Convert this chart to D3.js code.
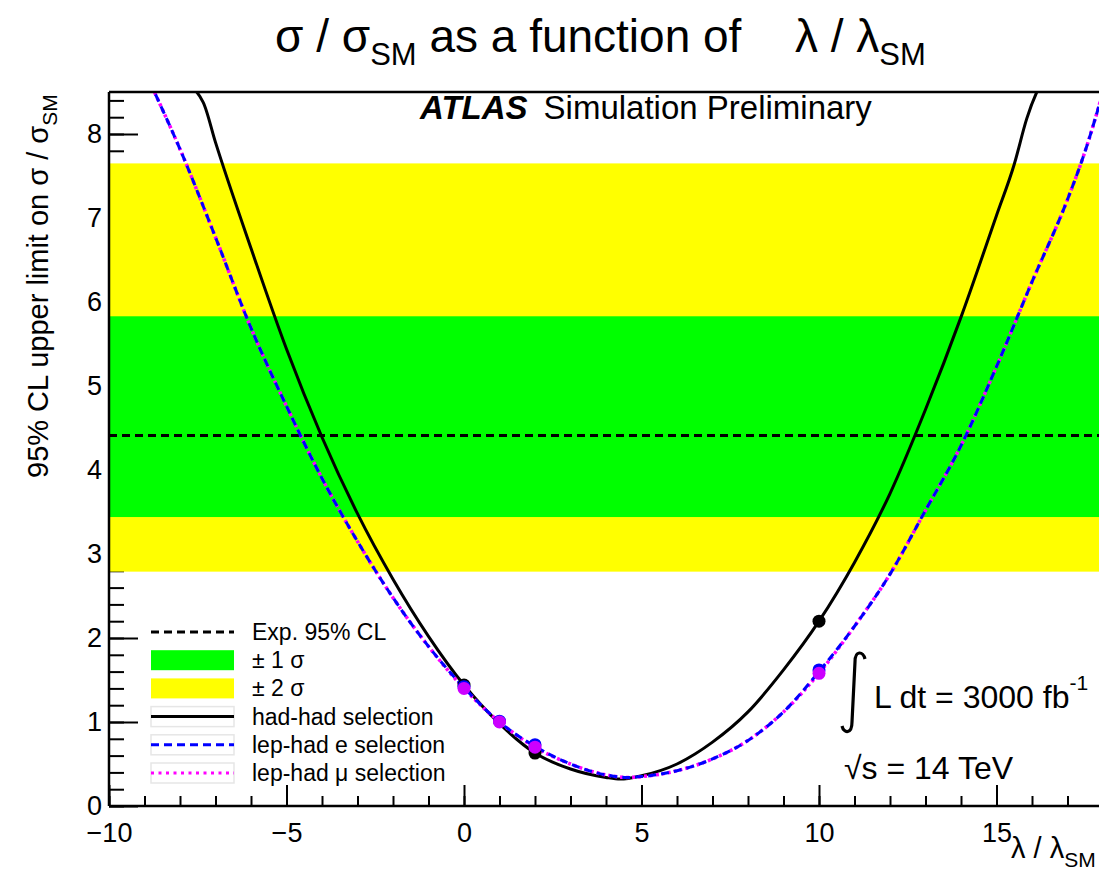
<!DOCTYPE html>
<html>
<head>
<meta charset="utf-8">
<script src="https://cdn.jsdelivr.net/npm/d3@7"></script>
<style>
  body { margin: 0; background: #fff; }
  svg { display: block; font-family: "Liberation Sans", Arial, sans-serif; }
</style>
</head>
<body>
<div id="chart"></div>
<script>
// Datos
const lambdaHad = [-8, -7.35, -7, -6, -5, -4, -3, -2, -1, 0, 1, 2, 3, 4, 4.4, 5, 6, 7, 8, 9, 10, 11, 12, 13, 14, 15, 15.5, 15.85, 16.5];
const limitHad = [8.65, 8.38, 7.9, 6.64, 5.44, 4.39, 3.48, 2.7, 2.02, 1.44, 0.98, 0.63, 0.44, 0.34, 0.32, 0.36, 0.5, 0.76, 1.12, 1.62, 2.2, 2.9, 3.72, 4.72, 5.82, 7.03, 7.64, 8.18, 8.8];

const lambdaLep = [-9, -8, -7, -6, -5, -4, -3, -2, -1, 0, 1, 2, 3, 4, 4.6, 5, 6, 7, 8, 9, 10, 11, 12, 13, 14, 15, 16, 17, 17.5, 18];
const limitLepE = [8.75, 7.82, 6.77, 5.69, 4.76, 3.9, 3.15, 2.48, 1.9, 1.41, 1.0, 0.71, 0.5, 0.37, 0.34, 0.35, 0.42, 0.56, 0.78, 1.12, 1.6, 2.14, 2.76, 3.52, 4.29, 5.23, 6.24, 7.22, 7.8, 8.5];
const limitLepMu = [8.75, 7.82, 6.77, 5.69, 4.76, 3.9, 3.15, 2.48, 1.9, 1.4, 1.0, 0.7, 0.5, 0.37, 0.34, 0.35, 0.42, 0.56, 0.78, 1.12, 1.58, 2.14, 2.76, 3.52, 4.29, 5.23, 6.24, 7.22, 7.8, 8.5];

const pointsHadX = [0, 2, 10];
const pointsHadY = [1.44, 0.63, 2.2];
const pointsLepX = [0, 1, 2, 10];
const pointsLepEY = [1.42, 1.01, 0.73, 1.62];
const pointsLepMuY = [1.4, 1.0, 0.7, 1.58];

const expLimit = 4.41;
const band1 = [3.44, 5.83];
const band2 = [2.79, 7.65];

const xTicks = [-10, -5, 0, 5, 10, 15];
const yTicks = [0, 1, 2, 3, 4, 5, 6, 7, 8];
const legendLabels = ["Exp. 95% CL", "\u00b1 1 \u03c3", "\u00b1 2 \u03c3", "had-had selection", "lep-had e selection", "lep-had \u03bc selection"];

// Constantes de dibujo
const width = 1099;
const height = 872;
const margin = { top: 92, right: -4, bottom: 66, left: 109 };

const svg = d3.select("div#chart").append("svg")
  .attr("width", width)
  .attr("height", height);

const x = d3.scaleLinear().domain([-10, 18]).range([margin.left, width - margin.right]);
const y = d3.scaleLinear().domain([0, 8.5]).range([height - margin.bottom, margin.top]);

svg.append("clipPath").attr("id", "plotClip")
  .append("rect")
  .attr("x", margin.left).attr("y", margin.top)
  .attr("width", x(18) - margin.left).attr("height", y(0) - margin.top);

// Ejes (ticks hacia dentro)
const minorY = d3.range(0, 43).map((i) => i * 0.2).filter((v) => v <= 8.5);
const minorX = d3.range(-10, 19);

const axisGroup = svg.append("g");
const styleAxis = (g) => {
  g.select(".domain").remove();
  g.selectAll("line").attr("stroke", "#000").attr("stroke-width", 2);
  g.selectAll("text").attr("font-size", 27).attr("font-family", "Liberation Sans, Arial, sans-serif").attr("fill", "#000");
};

axisGroup.append("g")
  .attr("transform", `translate(${margin.left},0)`)
  .call(d3.axisLeft(y).tickValues(minorY).tickSize(-15).tickFormat(""))
  .call(styleAxis);
axisGroup.append("g")
  .attr("transform", `translate(${margin.left},0)`)
  .call(d3.axisLeft(y).tickValues(yTicks).tickSize(-29).tickPadding(7).tickFormat(d3.format("d")))
  .call(styleAxis);
axisGroup.append("g")
  .attr("transform", `translate(0,${y(0)})`)
  .call(d3.axisBottom(x).tickValues(minorX).tickSize(-10).tickFormat(""))
  .call(styleAxis);
axisGroup.append("g")
  .attr("transform", `translate(0,${y(0)})`)
  .call(d3.axisBottom(x).tickValues(xTicks).tickSize(-21).tickPadding(17).tickFormat(d3.format("d")))
  .call(styleAxis);

// Bandas
const plot = svg.append("g").attr("clip-path", "url(#plotClip)");
plot.append("rect")
  .attr("x", margin.left).attr("width", x(18) - margin.left)
  .attr("y", y(band2[1])).attr("height", y(band2[0]) - y(band2[1]))
  .attr("fill", "#ffff00");
plot.append("rect")
  .attr("x", margin.left).attr("width", x(18) - margin.left)
  .attr("y", y(band1[1])).attr("height", y(band1[0]) - y(band1[1]))
  .attr("fill", "#00ff00");
plot.append("line")
  .attr("x1", margin.left).attr("x2", x(18))
  .attr("y1", y(expLimit)).attr("y2", y(expLimit))
  .attr("stroke", "#000").attr("stroke-width", 3).attr("stroke-dasharray", "8,5");

// Curvas
const line = d3.line().x((d) => x(d[0])).y((d) => y(d[1])).curve(d3.curveMonotoneX);
const zip = (a, b) => a.map((v, i) => [v, b[i]]);

plot.append("path").datum(zip(lambdaHad, limitHad))
  .attr("d", line).attr("fill", "none").attr("stroke", "#000").attr("stroke-width", 3);
plot.append("path").datum(zip(lambdaLep, limitLepMu))
  .attr("d", line).attr("fill", "none").attr("stroke", "#ff00ff").attr("stroke-width", 3.5)
  .attr("stroke-dasharray", "3,3");
plot.append("path").datum(zip(lambdaLep, limitLepE))
  .attr("d", line).attr("fill", "none").attr("stroke", "#0000ff").attr("stroke-width", 3)
  .attr("stroke-dasharray", "8,5");

// Puntos
const paintPoints = (xs, ys, color) => {
  plot.append("g").selectAll("circle")
    .data(zip(xs, ys))
    .join("circle")
    .attr("cx", (d) => x(d[0]))
    .attr("cy", (d) => y(d[1]))
    .attr("r", 6.5)
    .attr("fill", color);
};
paintPoints(pointsHadX, pointsHadY, "#000");
paintPoints(pointsLepX, pointsLepEY, "#0000ff");
paintPoints(pointsLepX, pointsLepMuY, "#cc00ff");

// Marco
svg.append("line")
  .attr("x1", margin.left).attr("x2", margin.left)
  .attr("y1", margin.top).attr("y2", y(0))
  .attr("stroke", "#000").attr("stroke-width", 2.5);
svg.append("line")
  .attr("x1", margin.left).attr("x2", width)
  .attr("y1", y(0)).attr("y2", y(0))
  .attr("stroke", "#000").attr("stroke-width", 2.5);
svg.append("line")
  .attr("x1", margin.left).attr("x2", width)
  .attr("y1", margin.top).attr("y2", margin.top)
  .attr("stroke", "#000").attr("stroke-width", 2.5);

// Leyenda
const legend = svg.append("g").attr("transform", "translate(151,632)");
const rowH = 28.2;
const symW = 83;
legendLabels.forEach((label, i) => {
  const g = legend.append("g").attr("transform", `translate(0,${i * rowH})`);
  if (i >= 3) {
    g.append("rect").attr("x", 0).attr("y", -10).attr("width", symW).attr("height", 20)
      .attr("fill", "none").attr("stroke", "#e6e6e6").attr("stroke-width", 1.5);
  }
  if (i === 0) {
    g.append("line").attr("x1", 0).attr("x2", symW).attr("stroke", "#000")
      .attr("stroke-width", 3).attr("stroke-dasharray", "8,5");
  } else if (i === 1 || i === 2) {
    g.append("rect").attr("x", 0).attr("y", -10).attr("width", symW).attr("height", 20)
      .attr("fill", i === 1 ? "#00ff00" : "#ffff00");
  } else if (i === 3) {
    g.append("line").attr("x1", 0).attr("x2", symW).attr("stroke", "#000").attr("stroke-width", 3);
  } else if (i === 4) {
    g.append("line").attr("x1", 0).attr("x2", symW).attr("stroke", "#0000ff")
      .attr("stroke-width", 3).attr("stroke-dasharray", "8,5");
  } else {
    g.append("line").attr("x1", 0).attr("x2", symW).attr("stroke", "#ff00ff")
      .attr("stroke-width", 3).attr("stroke-dasharray", "3,4.5");
  }
  g.append("text").attr("x", 101).attr("y", 8)
    .attr("font-size", 23).text(label);
});

// Textos
const title = svg.append("text").attr("x", 275).attr("y", 52).attr("font-size", 46);
title.append("tspan").text("\u03c3 / \u03c3");
title.append("tspan").attr("font-size", 31).attr("dy", 13).text("SM");
title.append("tspan").attr("dy", -13).text(" as a function of");
const title2 = svg.append("text").attr("x", 795).attr("y", 52).attr("font-size", 46);
title2.append("tspan").text("\u03bb / \u03bb");
title2.append("tspan").attr("font-size", 31).attr("dy", 13).text("SM");

const yLabel = svg.append("text")
  .attr("transform", "translate(48,478) rotate(-90)")
  .attr("font-size", 29);
yLabel.append("tspan").text("95% CL upper limit on \u03c3 / \u03c3");
yLabel.append("tspan").attr("font-size", 21).attr("dy", 9).text("SM");

const xLabel = svg.append("text").attr("x", 1011).attr("y", 858).attr("font-size", 29);
xLabel.append("tspan").text("\u03bb / \u03bb");
xLabel.append("tspan").attr("font-size", 21).attr("dy", 9).text("SM");

const atlas = svg.append("text").attr("x", 420).attr("y", 119).attr("font-size", 33);
atlas.append("tspan").attr("font-weight", "bold").attr("font-style", "italic").text("ATLAS");
atlas.append("tspan").attr("dx", 16).text("Simulation Preliminary");

// Integral y energía
svg.append("path")
  .attr("d", "M865,659 C863,651 855,650 855,662 L852,722 C852,734 844,734 842,726")
  .attr("fill", "none").attr("stroke", "#000").attr("stroke-width", 3.2);
const lumi = svg.append("text").attr("x", 874).attr("y", 708).attr("font-size", 32);
lumi.append("tspan").text("L dt = 3000 fb");
lumi.append("tspan").attr("font-size", 21).attr("dy", -18).text("-1");

svg.append("text").attr("x", 844).attr("y", 779).attr("font-size", 32).text("\u221as = 14 TeV");
</script>
</body>
</html>
